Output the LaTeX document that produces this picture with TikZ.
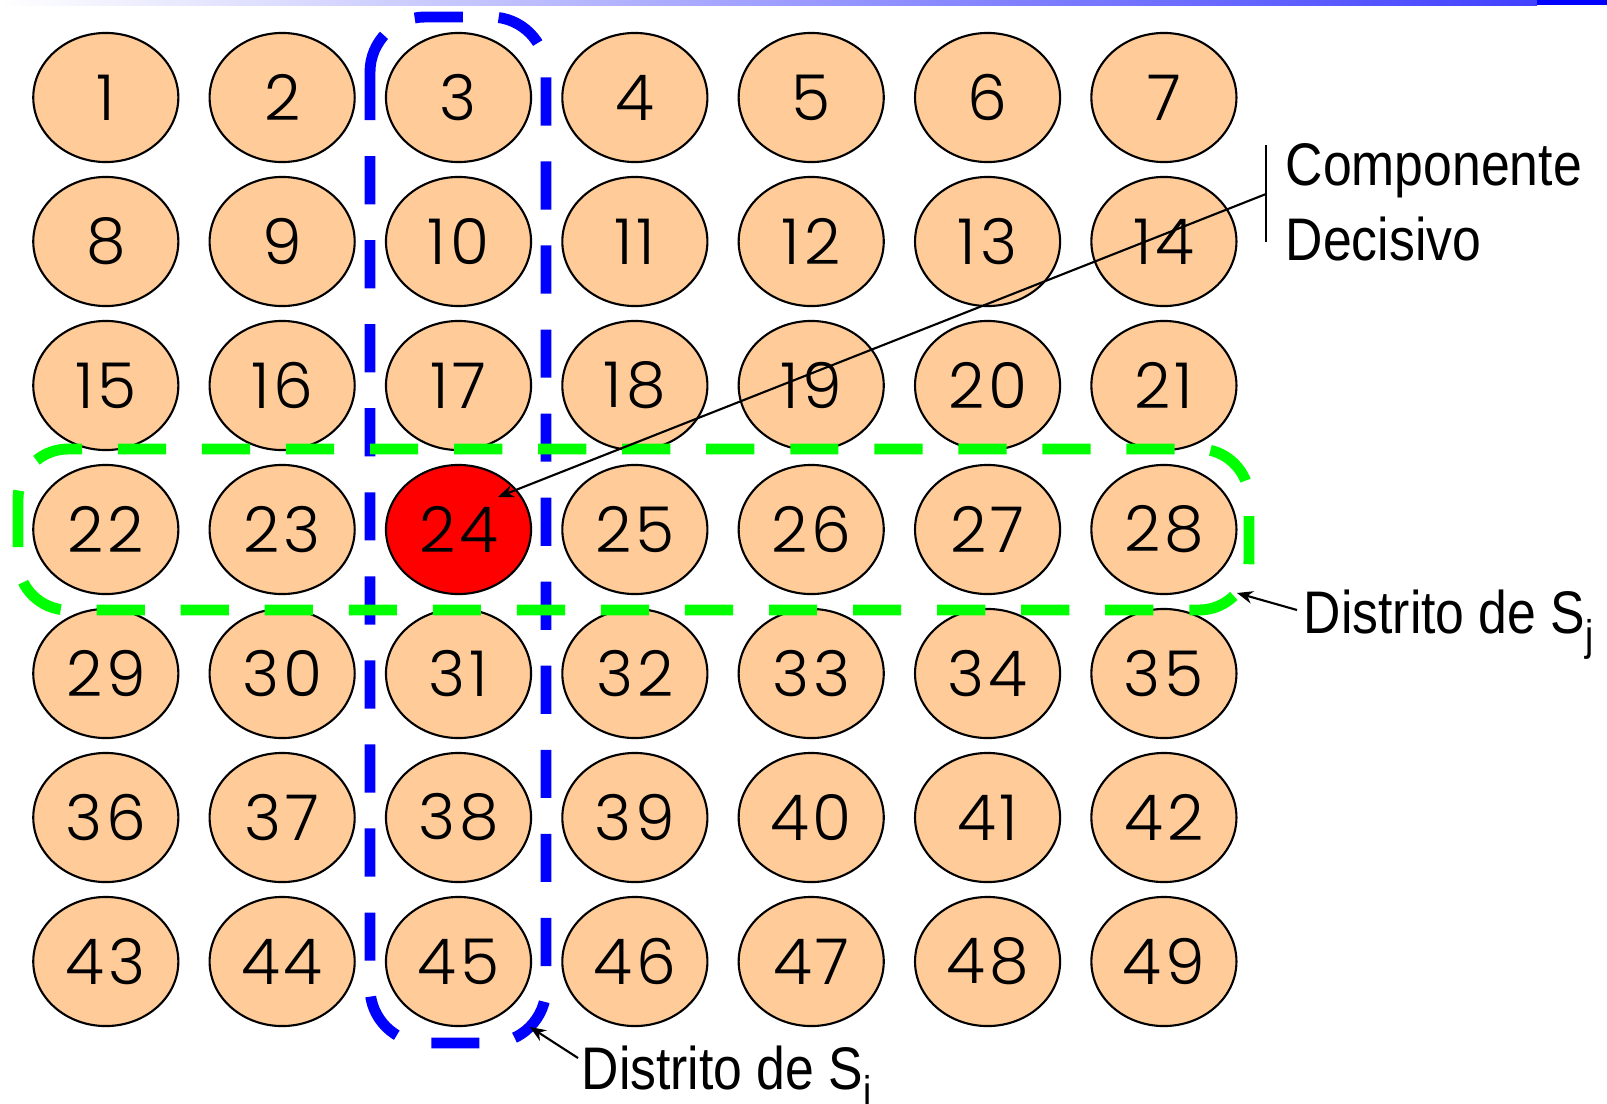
\documentclass[tikz,border=0pt]{standalone}
\usepackage{fontspec}
\setmainfont{Liberation Sans}
\newfontfamily\numfont[UprightFont=* Light, LetterSpace=6]{Poppins}
\newfontfamily\labfont[FakeStretch=0.86]{Liberation Sans}
\usetikzlibrary{arrows.meta,shapes.geometric}
\definecolor{peach}{HTML}{FFCC99}
\newcommand\lowsub[1]{\raisebox{-5pt}{\fontsize{12.2}{12.2}\selectfont #1}}
\begin{document}
\begin{tikzpicture}[x=0.01cm,y=-0.01cm,
  cell/.style={ellipse, draw=black, line width=0.6pt, fill=peach,
    minimum width=1.45cm, minimum height=1.29cm, inner sep=0pt,
    font=\numfont\fontsize{18}{18}\selectfont},
  hl24/.style={fill=red},
  bluedist/.style={draw=blue, line width=3.1pt, dash pattern=on 13.7pt off 10.2pt, rounded corners=0.55cm},
  greendist/.style={draw=green, line width=3.1pt, dash pattern=on 13.7pt off 10.2pt, rounded corners=0.5cm},
  lab/.style={inner sep=0pt, font=\labfont\fontsize{17.1}{20}\selectfont},
  ptr/.style={draw=black, line width=0.6pt, -{Stealth[length=4.5pt,width=3.6pt]}},
  bar/.style={draw=black, line width=0.7pt}]
\useasboundingbox (0,0) rectangle (1607,1103);
\shade[left color=white, right color=blue!75!white] (0,0) rectangle (1537,5);
\fill[blue] (1537,0) rectangle (1607,5);
\foreach \r in {0,...,6}{
  \foreach \c in {0,...,6}{
    \pgfmathtruncatemacro\k{\r*7+\c+1}
    \node[cell, hl\k/.try] (n\k) at ({105.8+176.35*\c},{97.5+144*\r}) {\k};
  }
}
\draw[bluedist] (370,17) rectangle (546,1043);
\draw[greendist] (18,449) rectangle (1249,610);
% Componente decisivo
\coordinate (barTop) at (1266,145);
\coordinate (barBot) at (1266,242);
\coordinate (barMid) at (1266,194);
\coordinate (tip24) at (498,497);
\draw[bar] (barTop) -- (barBot);
\draw[ptr] (barMid) -- (tip24);
\node[lab, anchor=base west] (compLab) at (1285,185) {Componente};
\node[lab, anchor=base west] (decLab) at (1285,260) {Decisivo};
% Distrito de Sj
\node[lab, anchor=base west] (sjLab) at (1303,633) {Distrito de S\lowsub{j}};
\coordinate (sjFrom) at (1297,610);
\coordinate (sjTip) at (1237,593);
\draw[ptr] (sjFrom) -- (sjTip);
% Distrito de Si
\node[lab, anchor=base west] (siLab) at (581,1089) {Distrito de S\lowsub{i}};
\coordinate (siFrom) at (578,1058);
\coordinate (siTip) at (530,1027);
\draw[ptr] (siFrom) -- (siTip);
\end{tikzpicture}
\end{document}
